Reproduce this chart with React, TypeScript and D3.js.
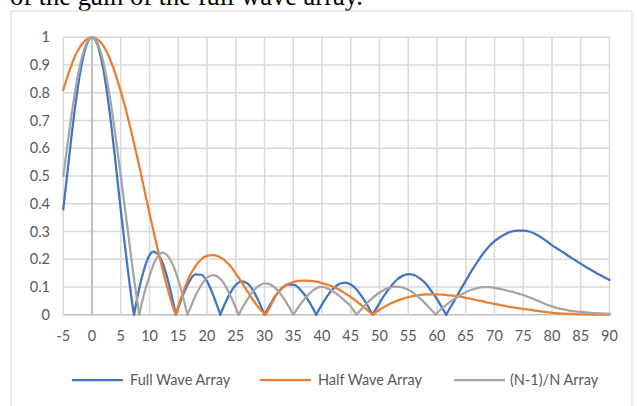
import React from "react";
import * as d3 from "d3";

const xTicks = [-5, 0, 5, 10, 15, 20, 25, 30, 35, 40, 45, 50, 55, 60, 65, 70, 75, 80, 85, 90];
const yTicks = [0, 0.1, 0.2, 0.3, 0.4, 0.5, 0.6, 0.7, 0.8, 0.9, 1];
const seriesNames = ["Full Wave Array", "Half Wave Array", "(N-1)/N Array"];
const seriesColors = ["#4472C4", "#ED7D31", "#A5A5A5"];

// [angle (deg), relative gain]
const fullWave: [number, number][] = [
  [-5, 0.38], [-4, 0.565], [-3, 0.74], [-2, 0.88], [-1, 0.97], [0, 1], [1, 0.97], [2, 0.88], [3, 0.74], [4, 0.565],
  [5, 0.376], [6, 0.2], [7, 0.04], [7.3, 0],
  [8, 0.075], [9, 0.16], [10, 0.215], [10.6, 0.227], [11, 0.225], [12, 0.2], [13, 0.14], [14, 0.055], [14.6, 0],
  [15, 0.025], [16, 0.08], [17, 0.123], [18, 0.145], [19, 0.144], [20, 0.12], [21, 0.074], [22, 0.018], [22.3, 0],
  [23, 0.034], [24, 0.077], [25, 0.107], [26, 0.12], [27, 0.113], [28, 0.088], [29, 0.048], [30, 0],
  [31, 0.037], [32, 0.071], [33, 0.095], [34, 0.108], [35, 0.108], [36, 0.095], [37, 0.071], [38, 0.038], [39, 0],
  [40, 0.037], [41, 0.07], [42, 0.095], [43, 0.111], [44, 0.116], [45, 0.109], [46, 0.091], [47, 0.063], [48, 0.03], [48.8, 0],
  [50, 0.042], [51, 0.075], [52, 0.103], [53, 0.126], [54, 0.14], [55, 0.146], [56, 0.143], [57, 0.131], [58, 0.113],
  [59, 0.086], [60, 0.056], [61, 0.021], [61.6, 0],
  [62, 0.015], [63, 0.05], [64, 0.087], [65, 0.122], [66, 0.158], [67, 0.19], [68, 0.22], [69, 0.245], [70, 0.265],
  [71, 0.28], [72, 0.292], [73, 0.3], [74, 0.303], [75, 0.303], [76, 0.3], [77, 0.292], [78, 0.28], [79, 0.266],
  [80, 0.25], [81, 0.237], [82, 0.224], [83, 0.21], [84, 0.197], [85, 0.184], [86, 0.171], [87, 0.159], [88, 0.147],
  [89, 0.136], [90, 0.125],
];

const halfWave: [number, number][] = [
  [-5, 0.81], [-4, 0.875], [-3, 0.93], [-2, 0.968], [-1, 0.992], [0, 1], [1, 0.992], [2, 0.968], [3, 0.928], [4, 0.872],
  [5, 0.805], [6, 0.73], [7, 0.645], [8, 0.555], [9, 0.46], [10, 0.365], [11, 0.273], [12, 0.186], [13, 0.105], [14, 0.033], [14.55, 0],
  [15, 0.03], [16, 0.09], [17, 0.14], [18, 0.175], [19, 0.2], [20, 0.212], [21, 0.215], [22, 0.21], [23, 0.197],
  [24, 0.177], [25, 0.148], [26, 0.118], [27, 0.085], [28, 0.053], [29, 0.025], [30.2, 0],
  [31, 0.03], [32, 0.07], [33, 0.095], [34, 0.11], [35, 0.118], [36, 0.122], [37, 0.123], [38, 0.122], [39, 0.119],
  [40, 0.114], [41, 0.108], [42, 0.1], [43, 0.09], [44, 0.077], [45, 0.064], [46, 0.048], [47, 0.032], [48, 0.015], [48.8, 0],
  [50, 0.018], [51, 0.03], [52, 0.041], [53, 0.05], [54, 0.057], [55, 0.063], [56, 0.068], [57, 0.071], [58, 0.073],
  [59, 0.073], [60, 0.073], [61, 0.072], [62, 0.07], [63, 0.068], [64, 0.065], [65, 0.061], [66, 0.057], [67, 0.052],
  [68, 0.048], [69, 0.043], [70, 0.039], [71, 0.035], [72, 0.031], [73, 0.027], [74, 0.024], [75, 0.021], [76, 0.018],
  [77, 0.015], [78, 0.012], [79, 0.009], [80, 0.007], [82, 0.004], [84, 0.002], [86, 0.001], [88, 0.0005], [90, 0],
];

const nMinusOne: [number, number][] = [
  [-5, 0.5], [-4, 0.657], [-3, 0.797], [-2, 0.907], [-1, 0.976], [0, 1], [1, 0.976], [2, 0.907], [3, 0.797], [4, 0.657],
  [5, 0.5], [6, 0.34], [7, 0.175], [8, 0.03], [8.2, 0],
  [9, 0.07], [10, 0.14], [11, 0.196], [12, 0.222], [12.3, 0.224], [13, 0.216], [14, 0.183], [15, 0.125], [16, 0.05], [16.6, 0],
  [17, 0.02], [18, 0.068], [19, 0.107], [20, 0.133], [21, 0.143], [22, 0.135], [23, 0.11], [24, 0.071], [25, 0.025], [25.5, 0],
  [26, 0.019], [27, 0.054], [28, 0.084], [29, 0.104], [30, 0.113], [31, 0.109], [32, 0.094], [33, 0.069], [34, 0.037], [35, 0],
  [36, 0.03], [37, 0.058], [38, 0.08], [39, 0.095], [39.7, 0.1], [40, 0.1], [41, 0.094], [42, 0.083], [43, 0.068],
  [44, 0.05], [45, 0.03], [46, 0],
  [47, 0.023], [48, 0.045], [49, 0.064], [50, 0.08], [51, 0.092], [52, 0.099], [53, 0.101], [54, 0.098], [55, 0.09],
  [56, 0.077], [57, 0.06], [58, 0.04], [59, 0.018], [59.8, 0],
  [60, 0.005], [61, 0.025], [62, 0.042], [63, 0.057], [64, 0.07], [65, 0.081], [66, 0.09], [67, 0.096], [68, 0.099],
  [69, 0.099], [70, 0.097], [71, 0.093], [72, 0.088], [73, 0.083], [74, 0.077], [75, 0.071], [76, 0.063], [77, 0.055],
  [78, 0.046], [79, 0.037], [80, 0.03], [81, 0.024], [82, 0.019], [83, 0.015], [84, 0.012], [85, 0.01], [86, 0.008],
  [87, 0.006], [88, 0.005], [89, 0.004], [90, 0.003],
];

const allSeries = [fullWave, halfWave, nMinusOne];

const W = 637;
const H = 406;
const FONT = "Lato, 'Open Sans', 'Noto Sans', sans-serif";

// split a series into lobes at its interior nulls so each null stays a sharp V
function splitAtNulls(s: [number, number][]): [number, number][][] {
  const parts: [number, number][][] = [];
  let cur: [number, number][] = [];
  s.forEach((p, i) => {
    cur.push(p);
    if (p[1] === 0 && i > 0 && i < s.length - 1) {
      parts.push(cur);
      cur = [p];
    }
  });
  if (cur.length > 1) parts.push(cur);
  return parts;
}

export default function App() {
  const x = d3.scaleLinear().domain([-5, 90]).range([63.3, 609.5]);
  const y = d3.scaleLinear().domain([0, 1]).range([314.7, 37.3]);
  const line = d3
    .line<[number, number]>()
    .x((d) => x(d[0]))
    .y((d) => y(d[1]))
    .curve(d3.curveMonotoneX);

  const legendItems = [
    { lx: 72, tx: 130 },
    { lx: 260, tx: 318 },
    { lx: 454, tx: 510 },
  ];

  return (
    <svg
      width={W}
      height={H}
      style={{ position: "fixed", left: 0, top: 0, background: "#fff" }}
    >
      <rect x={0} y={0} width={W} height={H} fill="#fff" />
      <text
        x={10}
        y={5}
        fontFamily="'Liberation Serif', 'Times New Roman', serif"
        fontSize={26.5}
        fill="#000"
      >
        of the gain of the full wave array.
      </text>
      <rect x={11} y={11} width={621} height={420} fill="none" stroke="#d9d9d9" strokeWidth={1} />

      {/* gridlines */}
      {yTicks.map((t) => (
        <line
          key={"gy" + t}
          x1={x(-5)}
          x2={x(90)}
          y1={y(t)}
          y2={y(t)}
          stroke={t === 0 ? "#bfbfbf" : "#d9d9d9"}
          strokeWidth={1.5}
        />
      ))}
      {xTicks.map((t) => (
        <line
          key={"gx" + t}
          x1={x(t)}
          x2={x(t)}
          y1={y(0)}
          y2={y(1)}
          stroke={t === 0 ? "#bfbfbf" : "#d9d9d9"}
          strokeWidth={t === 0 ? 2 : 1.5}
        />
      ))}

      {/* y tick labels */}
      {yTicks.map((t) => (
        <text
          key={"ty" + t}
          x={50}
          y={y(t)}
          dy="0.35em"
          textAnchor="end"
          fontFamily={FONT}
          fontSize={14.5}
          fill="#595959"
        >
          {String(t)}
        </text>
      ))}
      {/* x tick labels */}
      {xTicks.map((t) => (
        <text
          key={"tx" + t}
          x={x(t)}
          y={341}
          textAnchor="middle"
          fontFamily={FONT}
          fontSize={14.5}
          fill="#595959"
        >
          {String(t)}
        </text>
      ))}

      {/* series */}
      {allSeries.map((s, i) => (
        <g key={"s" + i}>
          {splitAtNulls(s).map((seg, j) => (
            <path
              key={j}
              d={line(seg) || ""}
              fill="none"
              stroke={seriesColors[i]}
              strokeWidth={2.25}
              strokeLinejoin="round"
              strokeLinecap="round"
            />
          ))}
        </g>
      ))}

      {/* legend */}
      {seriesNames.map((name, i) => (
        <g key={"lg" + i}>
          <line
            x1={legendItems[i].lx}
            x2={legendItems[i].lx + 51}
            y1={380}
            y2={380}
            stroke={seriesColors[i]}
            strokeWidth={2.25}
          />
          <text
            x={legendItems[i].tx}
            y={380}
            dy="0.35em"
            fontFamily={FONT}
            fontSize={14.5}
            fill="#595959"
          >
            {name}
          </text>
        </g>
      ))}
    </svg>
  );
}
